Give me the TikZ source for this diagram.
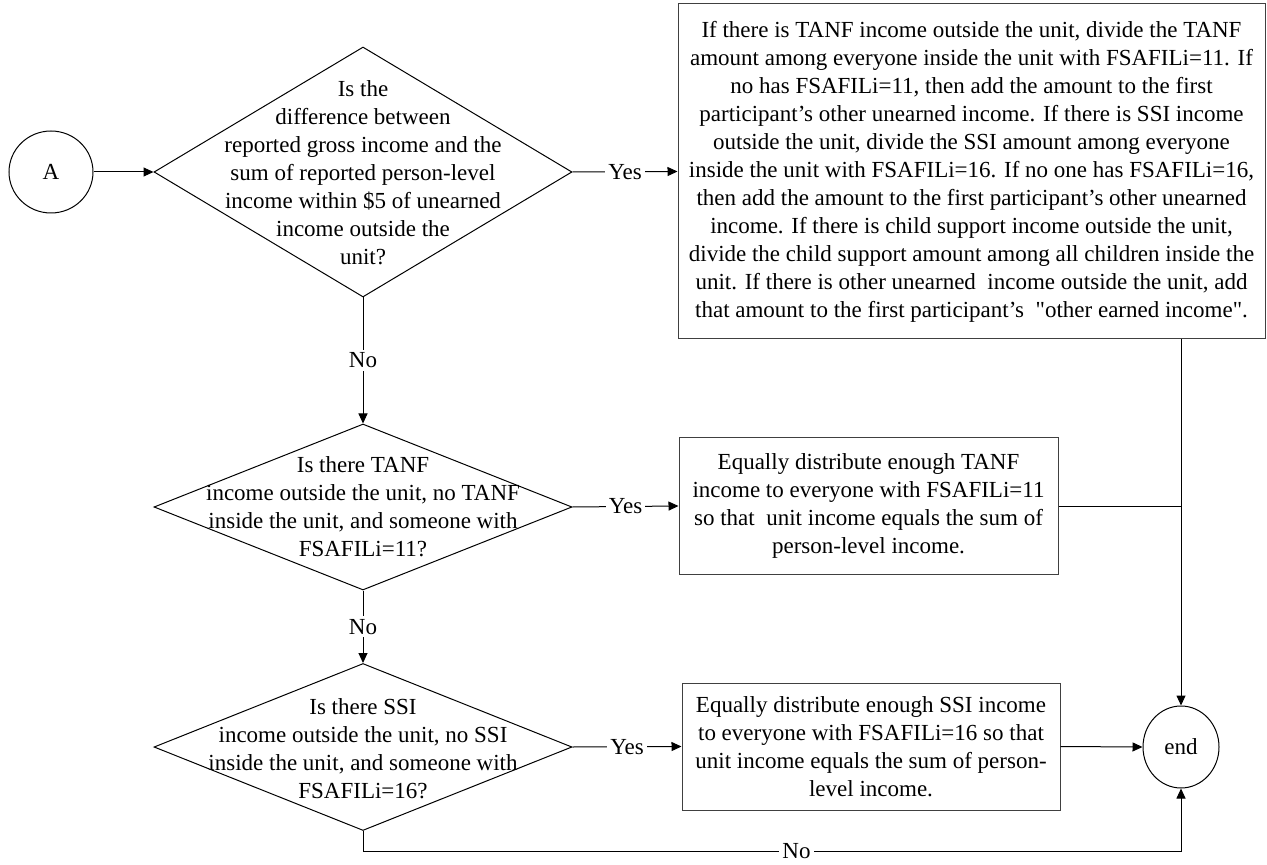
\documentclass[tikz,border=0pt]{standalone}
\usepackage{fontspec}
\setmainfont{Liberation Serif}[Ligatures=TeXOff]
\usetikzlibrary{shapes.geometric,arrows.meta}
\begin{document}
\begin{tikzpicture}[x=0.5pt,y=-0.5pt,
  line width=0.5pt,
  every node/.style={font=\fontsize{11.5}{14}\selectfont},
  term/.style={draw, ellipse, inner sep=0pt},
  dia/.style={draw, diamond, inner sep=0pt},
  txt/.style={align=center, inner sep=0pt},
  procbox/.style={draw=black!75, align=center, inner sep=0pt},
  lbl/.style={fill=white, inner sep=1.5pt},
  arr/.style={-{Triangle[length=5pt,width=4.5pt]}},
]
\useasboundingbox (0,0) rectangle (1267,865);
\node[term, minimum width=42pt, minimum height=41pt] (A) at (51,172) {A};
\node[dia, minimum width=209pt, minimum height=125pt] (d1) at (363,172) {};
\node[txt] (t1) at (363,173) {Is the\\difference between\\reported gross income and the\\sum of reported person-level\\income within \$5 of unearned\\income outside the\\unit?};
\node[procbox, minimum width=293.5pt, minimum height=167.5pt] (box1) at (971.5,171.5) {If there is TANF income outside the unit, divide the TANF\\amount among everyone inside the unit with FSAFILi=11. If\\no has FSAFILi=11, then add the amount to the first\\participant’s other unearned income. If there is SSI income\\outside the unit, divide the SSI amount among everyone\\inside the unit with FSAFILi=16. If no one has FSAFILi=16,\\then add the amount to the first participant’s other unearned\\income. If there is child support income outside the unit,\\divide the child support amount among all children inside the\\unit. If there is other unearned\ \ income outside the unit, add\\that amount to the first participant’s\ \ "other earned income".};
\node[dia, minimum width=209pt, minimum height=83pt] (d2) at (363,507) {};
\node[txt] (t2) at (363,507) {Is there TANF\\income outside the unit, no TANF\\inside the unit, and someone with\\FSAFILi=11?};
\node[procbox, minimum width=189.5pt, minimum height=68pt] (box2) at (868.5,506) {Equally distribute enough TANF\\income to everyone with FSAFILi=11\\so that\ \ unit income equals the sum of\\person-level income.};
\node[dia, minimum width=209pt, minimum height=83.5pt] (d3) at (363,747) {};
\node[txt] (t3) at (363,749) {Is there SSI\\income outside the unit, no SSI\\inside the unit, and someone with\\FSAFILi=16?};
\node[procbox, minimum width=189pt, minimum height=63.5pt] (box3) at (871,746.5) {Equally distribute enough SSI income\\to everyone with FSAFILi=16 so that\\unit income equals the sum of person-\\level income.};
\node[term, minimum width=38pt, minimum height=41pt] (endn) at (1181,747) {end};
\coordinate (nb) at (363,851);
\coordinate (ne) at (1181,851);
\draw[arr] (A.east) -- (d1.west);
\draw[arr] (d1.east) -- node[lbl]{Yes} (box1.west);
\draw[arr] (d1.south) -- node[lbl]{No} (d2.north);
\draw[arr] (d2.east) -- node[lbl]{Yes} (box2.west);
\draw[arr] (d2.south) -- node[lbl]{No} (d3.north);
\draw[arr] (d3.east) -- node[lbl]{Yes} (box3.west);
\draw[arr] (box3.east) -- (endn.west);
\draw[arr] (d3.south) -- (nb) -- node[lbl,pos=0.53]{No} (ne) -- (endn.south);
\draw[arr] (box1.south -| endn.north) -- (endn.north);
\draw (box2.east) -- (box2.east -| endn.north);
\end{tikzpicture}
\end{document}
